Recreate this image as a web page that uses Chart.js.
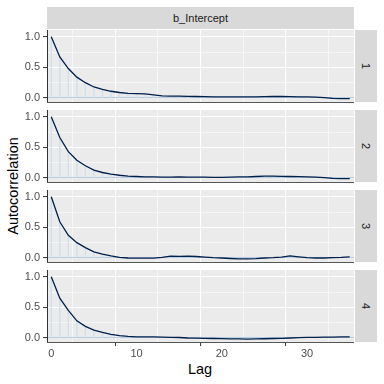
<!DOCTYPE html>
<html>
<head>
<meta charset="utf-8">
<script src="https://cdn.jsdelivr.net/npm/chart.js@4"></script>
<style>
html,body{margin:0;padding:0;background:#fff;width:384px;height:384px;overflow:hidden;font-family:"Liberation Sans",Arial,sans-serif;}
canvas{position:absolute;left:0;}
.strip{position:absolute;background:#D9D9D9;color:#1A1A1A;font-size:11px;display:flex;align-items:center;justify-content:center;}
.rot{transform:rotate(90deg);display:inline-block;}
.title{position:absolute;color:#000;font-size:14.5px;white-space:nowrap;}
</style>
</head>
<body>
<div class="strip" style="left:47px;top:7px;width:307px;height:22px;">b_Intercept</div>
<div class="title" id="ytitle" style="left:12.5px;top:185.5px;transform:translate(-50%,-50%) rotate(-90deg);">Autocorrelation</div>
<div class="title" style="left:200px;top:369px;transform:translate(-50%,-50%);">Lag</div>
<script>
const lags = [0,1,2,3,4,5,6,7,8,9,10,11,12,13,14,15,16,17,18,19,20,21,22,23,24,25,26,27,28,29,30,31,32,33,34,35];
const chains = ["1","2","3","4"];
const acf1 = [1.00,0.67,0.48,0.34,0.25,0.18,0.14,0.11,0.09,0.075,0.07,0.066,0.05,0.035,0.03,0.03,0.028,0.025,0.022,0.02,0.02,0.02,0.018,0.02,0.02,0.022,0.025,0.025,0.022,0.02,0.02,0.015,0.005,-0.005,-0.01,-0.01];
const acf2 = [1.00,0.66,0.43,0.29,0.20,0.13,0.09,0.065,0.045,0.03,0.025,0.02,0.018,0.015,0.015,0.018,0.016,0.015,0.014,0.012,0.012,0.015,0.018,0.02,0.025,0.03,0.03,0.028,0.025,0.022,0.02,0.015,0.005,-0.005,-0.01,-0.01];
const acf3 = [1.00,0.59,0.37,0.25,0.17,0.10,0.065,0.035,0.01,0.0,-0.002,-0.003,-0.002,0.012,0.03,0.028,0.03,0.025,0.015,0.005,0.0,-0.008,-0.015,-0.015,-0.01,0.0,0.005,0.015,0.035,0.02,0.005,0.0,0.0,0.005,0.01,0.02];
const acf4 = [1.00,0.65,0.45,0.28,0.19,0.13,0.09,0.06,0.038,0.027,0.02,0.02,0.02,0.016,0.012,0.008,0.0,-0.002,-0.005,-0.008,-0.01,-0.015,-0.015,-0.018,-0.015,-0.012,-0.008,-0.005,0.0,0.005,0.01,0.012,0.015,0.015,0.018,0.02];
const yTicks = [0,0.25,0.5,0.75,1.0];
const yMajor = [0,0.5,1.0];
const xTicks = [0,5,10,15,20,25,30,35];
const xMajor = [0,10,20,30];

const series = [acf1, acf2, acf3, acf4];
const panelTops = [30,110,190,270];
const PH = 72;

const bgPlugin = {
  id:'bg',
  beforeDraw(chart){
    const {ctx, chartArea:a} = chart;
    ctx.save(); ctx.fillStyle='#EBEBEB';
    ctx.fillRect(a.left, a.top, a.right-a.left, a.bottom-a.top);
    ctx.restore();
  }
};

series.forEach((vals, k) => {
  const last = k === series.length-1;
  const cv = document.createElement('canvas');
  const H = PH + (last ? 30 : 1);
  cv.width = 354; cv.height = H;
  cv.style.top = panelTops[k] + 'px';
  document.body.appendChild(cv);

  const strip = document.createElement('div');
  strip.className = 'strip';
  strip.style.left = '355px'; strip.style.top = panelTops[k]+'px';
  strip.style.width = '22px'; strip.style.height = PH+'px';
  strip.innerHTML = '<span class="rot">'+chains[k]+'</span>';
  document.body.appendChild(strip);

  new Chart(cv, {
    data: {
      datasets: [
        { type:'line', data: lags.map((l,i)=>({x:l, y:vals[i]})), borderColor:'#011f4b', borderWidth:1.3, pointRadius:0, tension:0 },
        { type:'bar', data: lags.map((l,i)=>({x:l, y:vals[i]})), backgroundColor:'#cfe0ee', barThickness:0.7 }
      ]
    },
    options: {
      responsive:false, animation:false, devicePixelRatio:1,
      layout:{ padding:0, autoPadding:false },
      plugins:{ legend:{display:false}, tooltip:{enabled:false} },
      scales:{
        x:{ type:'linear', min:-0.5, max:35.5, offset:false,
          afterBuildTicks: s => { s.ticks = xTicks.map(v=>({value:v})); },
          afterFit: s => { s.height = last ? 30 : 1; s.paddingLeft = 0; s.paddingRight = 0; s.paddingTop = 0; s.paddingBottom = 0; },
          grid:{ color: c => 'white', lineWidth: c => xMajor.includes(c.tick && c.tick.value) ? 1.1 : 0.55,
                 drawTicks:last, tickLength:4, tickColor: c => xMajor.includes(c.tick && c.tick.value) ? '#333' : 'rgba(0,0,0,0)', tickWidth:1 },
          border:{ display:true, color:'#555', width:1 },
          ticks:{ display:last, autoSkip:false, maxRotation:0, padding:1, color:'#4D4D4D',
                  font:{family:'"Liberation Sans", Arial, sans-serif', size:11},
                  callback: v => xMajor.includes(v) ? String(v) : '' }
        },
        y:{ type:'linear', min:-0.065, max:1.109,
          afterBuildTicks: s => { s.ticks = yTicks.map(v=>({value:v})); },
          afterFit: s => { s.width = 47; s.paddingTop = 0; s.paddingBottom = 0; s.paddingLeft = 0; s.paddingRight = 0; },
          grid:{ color: c => (c.tick && c.tick.value === 0) ? '#b3cde0' : 'white',
                 lineWidth: c => yMajor.includes(c.tick && c.tick.value) ? 1.1 : 0.55,
                 drawTicks:true, tickLength:4, tickColor: c => yMajor.includes(c.tick && c.tick.value) ? '#333' : 'rgba(0,0,0,0)', tickWidth:1 },
          border:{ display:true, color:'#333', width:1 },
          ticks:{ autoSkip:false, padding:3, color:'#4D4D4D',
                  font:{family:'"Liberation Sans", Arial, sans-serif', size:11},
                  callback: v => yMajor.includes(v) ? v.toFixed(1) : '' }
        }
      }
    },
    plugins:[bgPlugin]
  });
});
</script>
</body>
</html>
